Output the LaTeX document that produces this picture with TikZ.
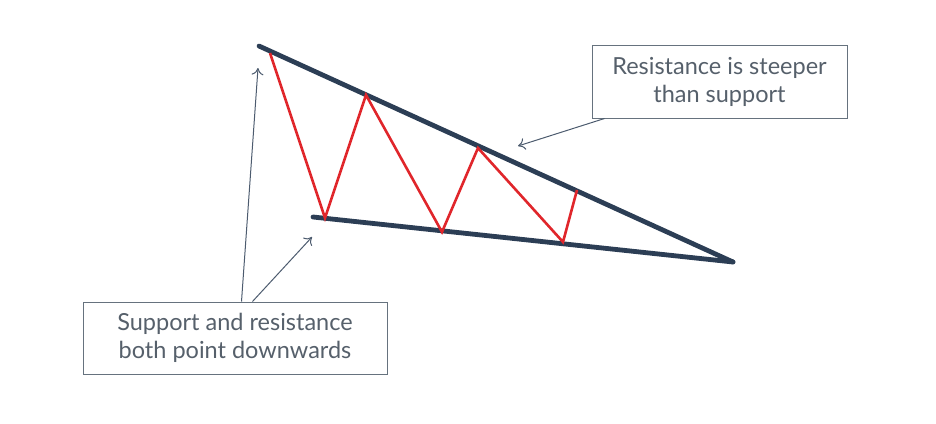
\documentclass[tikz,border=0pt]{standalone}
\usepackage{fontspec}
\setmainfont{Lato}
\usepackage{tikz}
\usetikzlibrary{arrows.meta,calc}
\definecolor{navy}{HTML}{2C3E55}
\definecolor{swing}{HTML}{E0262B}
\definecolor{frame}{HTML}{66727E}
\definecolor{label}{HTML}{56606B}
\tikzset{
  trendline/.style={draw=navy, line width=4.8pt, line cap=round},
  swingline/.style={draw=swing, line width=2.6pt, line join=miter},
  notebox/.style={draw=frame, line width=1pt, fill=white, inner sep=0pt,
        text=label, align=center, font=\fontsize{23.5}{28}\selectfont},
  pointer/.style={draw=navy!85, line width=1pt, -{To[length=7pt,width=12pt]}}
}

\begin{document}
\begin{tikzpicture}[x=1pt,y=-1pt]
  \useasboundingbox (0,0) rectangle (936,423);
  % wedge lines
  \coordinate (resTop) at (259,46);
  \coordinate (supTop) at (313,217);
  \coordinate (apex) at (733,262);
  \draw[trendline] (resTop) -- (apex);
  \draw[trendline] (supTop) -- (apex);
  % price swings
  \draw[swingline] (270,53) -- (325,218) -- (366,95) -- (442,232)
        -- (478,148) -- (563,242) -- (577,190);
  % notes
  \node[notebox, minimum width=255pt, minimum height=73pt] (steep) at (719.5,81.5)
        {Resistance is steeper\\than support};
  \node[notebox, minimum width=304pt, minimum height=72pt] (down) at (235,338)
        {Support and resistance\\both point downwards};
  \coordinate (steepTip) at (518,146);
  \coordinate (resTip) at (258,68);
  \coordinate (supTip) at (312,237);
  \draw[pointer] ([xshift=13pt]steep.south west) -- (steepTip);
  \draw[pointer] ([xshift=159pt]down.north west) -- (resTip);
  \draw[pointer] ([xshift=170pt]down.north west) -- (supTip);
\end{tikzpicture}
\end{document}
